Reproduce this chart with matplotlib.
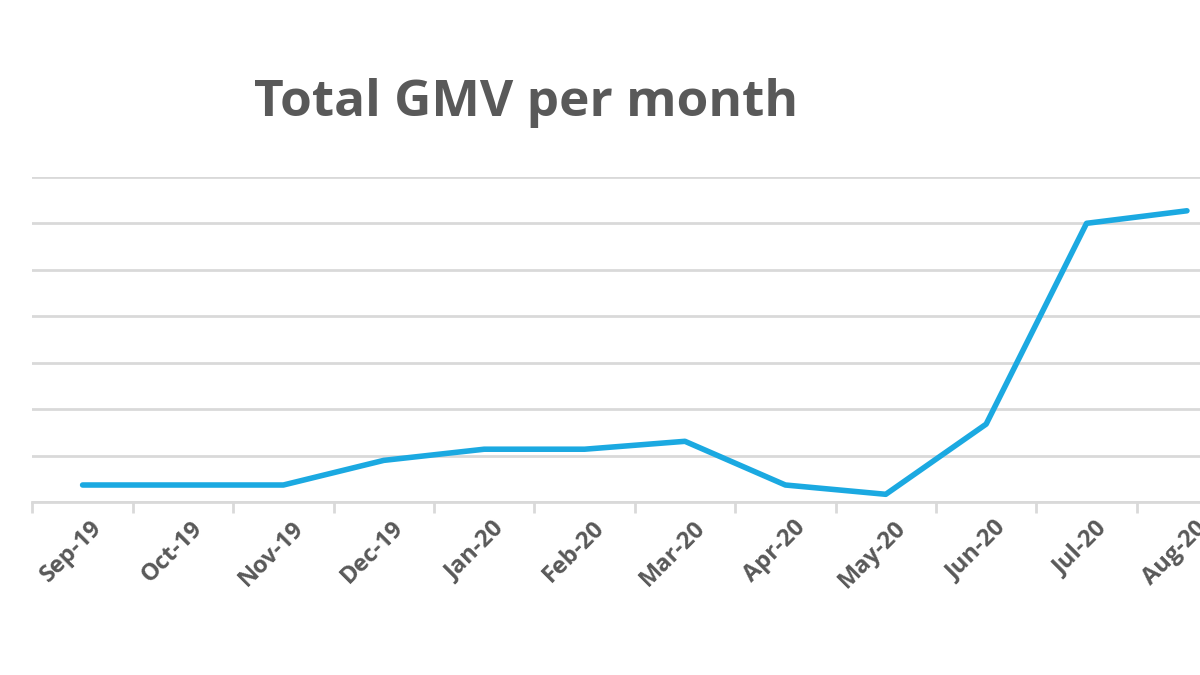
import matplotlib
matplotlib.use("Agg")
import matplotlib.pyplot as plt
import matplotlib.transforms as mt
import numpy as np

months = ["Sep-19","Oct-19","Nov-19","Dec-19","Jan-20","Feb-20","Mar-20","Apr-20","May-20","Jun-20","Jul-20","Aug-20"]
gmv = [0.37, 0.37, 0.37, 0.90, 1.14, 1.14, 1.31, 0.37, 0.17, 1.68, 6.0, 6.27]

fig = plt.figure(figsize=(12, 6.75), dpi=100)
ax = fig.add_axes([0.027, 0.256, 0.973, 0.482])
x = np.arange(len(months))
ax.plot(x, gmv, color="#1ba9e1", lw=4, solid_joinstyle="round", solid_capstyle="round")
ax.set_ylim(0, 7)
ax.set_xlim(-0.49, 11.13)
ax.set_yticks(range(0, 8))
ax.set_yticklabels([])
ax.tick_params(axis="y", length=0)
ax.grid(axis="y", color="#d9d9d9", lw=2)
ax.set_axisbelow(True)
for s in ["top", "right", "left"]:
    ax.spines[s].set_visible(False)
ax.spines["bottom"].set_color("#d9d9d9")
ax.spines["bottom"].set_linewidth(2)
ax.set_xticks(x)
ax.set_xticklabels(months, rotation=45, ha="right", rotation_mode="anchor",
                   fontsize=17, fontweight="bold", color="#595959", family="Open Sans")
ax.set_xticks(x - 0.5, minor=True)
ax.tick_params(axis="x", which="major", length=0, pad=10)
ax.tick_params(axis="x", which="minor", length=8, width=2, color="#d9d9d9")
for lab in ax.get_xticklabels():
    lab.set_transform(lab.get_transform() + mt.ScaledTranslation(0.08, 0, fig.dpi_scale_trans))
fig.text(0.438, 0.847, "Total GMV per month", ha="center", va="center",
         fontsize=37, fontweight="bold", color="#595959", family="Open Sans")
fig.savefig("out.png", dpi=100, facecolor="white")
